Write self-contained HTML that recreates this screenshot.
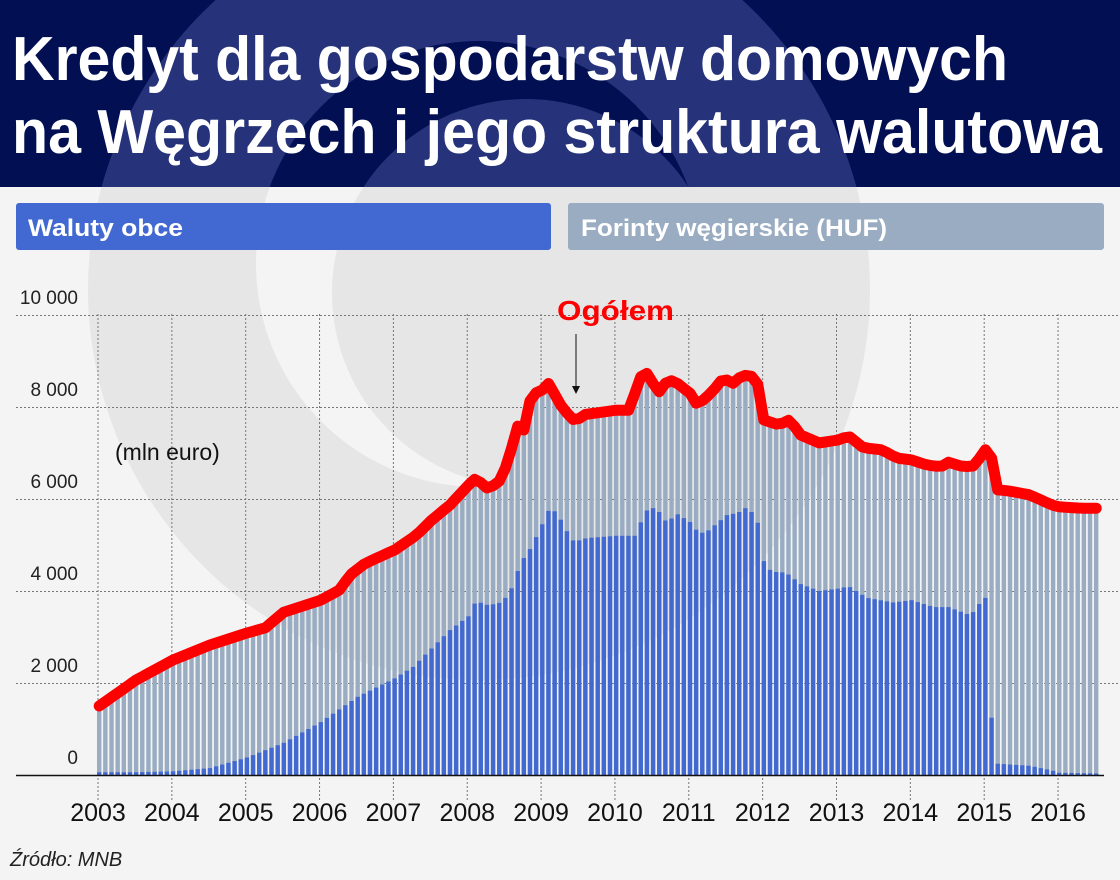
<!DOCTYPE html>
<html><head><meta charset="utf-8">
<style>
html,body{margin:0;padding:0;background:#f4f4f4;}
svg{display:block;}
</style></head>
<body>
<svg id="s" width="1120" height="880" viewBox="0 0 1120 880" xmlns="http://www.w3.org/2000/svg" font-family="Liberation Sans, sans-serif">
<defs>
<clipPath id="hdr"><rect x="0" y="0" width="1120" height="187"/></clipPath>
<clipPath id="bdy"><rect x="0" y="187" width="1120" height="693"/></clipPath>
</defs>
<rect width="1120" height="880" fill="#f4f4f4"/>
<g clip-path="url(#bdy)">
  <circle cx="479" cy="289" r="391" fill="#e6e6e6"/>
  <circle cx="479" cy="264" r="223" fill="#f4f4f4"/>
  <circle cx="526" cy="293" r="194" fill="#e6e6e6"/>
</g>
<rect width="1120" height="187" fill="#020f52"/>
<g clip-path="url(#hdr)">
  <circle cx="479" cy="289" r="391" fill="#26337a"/>
  <circle cx="479" cy="264" r="223" fill="#020f52"/>
  <circle cx="526" cy="293" r="194" fill="#26337a"/>
</g>
<text x="12" y="80" font-size="62" font-weight="bold" fill="#fff" textLength="996" lengthAdjust="spacingAndGlyphs">Kredyt dla gospodarstw domowych</text>
<text x="12" y="153" font-size="62" font-weight="bold" fill="#fff" textLength="1090" lengthAdjust="spacingAndGlyphs">na Węgrzech i jego struktura walutowa</text>
<rect x="16" y="203" width="535" height="47" rx="3" fill="#4169d1"/>
<rect x="568" y="203" width="536" height="47" rx="3" fill="#9aacc2"/>
<text x="28" y="236" font-size="24" font-weight="bold" fill="#fff" textLength="155" lengthAdjust="spacingAndGlyphs">Waluty obce</text>
<text x="581" y="236" font-size="24" font-weight="bold" fill="#fff" textLength="306" lengthAdjust="spacingAndGlyphs">Forinty węgierskie (HUF)</text>
<g id="grid" stroke="#777" stroke-width="1" stroke-dasharray="2,2"></g>
<g id="bars"></g>
<line x1="16" y1="775.5" x2="1104" y2="775.5" stroke="#111" stroke-width="1.5"/>
<g id="lab" font-size="19" fill="#222" text-anchor="end"></g>
<text x="115" y="460" font-size="23" fill="#111">(mln euro)</text>
<path id="tot" fill="none" stroke="#ff0000" stroke-width="11" stroke-linejoin="round" stroke-linecap="round"/>
<text x="557" y="320" font-size="28" font-weight="bold" fill="#f00" textLength="117" lengthAdjust="spacingAndGlyphs">Ogółem</text>
<line x1="576" y1="334" x2="576" y2="388" stroke="#111" stroke-width="1"/>
<path d="M572,386 L580,386 L576,394 Z" fill="#111"/>
<g id="yrs" font-size="25" fill="#111" text-anchor="middle"></g>
<text x="10" y="866" font-size="20" font-style="italic" fill="#222">Źródło: MNB</text>
</svg>
<script>
var NS="http://www.w3.org/2000/svg";
function el(t,a,p,txt){var e=document.createElementNS(NS,t);for(var k in a)e.setAttribute(k,a[k]);if(txt!==undefined)e.textContent=txt;p.appendChild(e);return e;}
var Y=function(v){return 775-v*0.046;};
var X0=98,PY=73.85;
var grid=document.getElementById('grid'),lab=document.getElementById('lab'),yrs=document.getElementById('yrs');
[0,2000,4000,6000,8000,10000].forEach(function(v){
  if(v>0) el('line',{x1:16,x2:1120,y1:Y(v)+0.5,y2:Y(v)+0.5},grid);
  el('text',{x:78,y:Y(v)-11},lab,v===10000?'10 000':v===0?'0':(v/1000)+' 000');
});
for(var i=0;i<14;i++){var x=X0+i*PY;
  el('line',{x1:x,x2:x,y1:314,y2:802},grid);
  el('text',{x:x,y:821},yrs,String(2003+i));}
var T=[[2003,1500],[2003.5,2065],[2004,2500],[2004.5,2826],[2005,3087],[2005.25,3200],[2005.5,3540],[2006,3800],[2006.25,4020],[2006.4,4350],[2006.6,4600],[2007,4890],[2007.3,5220],[2007.5,5540],[2007.75,5870],[2008,6300],[2008.1,6450],[2008.25,6240],[2008.4,6330],[2008.55,6850],[2008.65,7600],[2008.75,7500],[2008.85,8260],[2009,8370],[2009.1,8540],[2009.2,8150],[2009.3,7930],[2009.45,7670],[2009.55,7830],[2010,7930],[2010.2,7930],[2010.3,8630],[2010.45,8760],[2010.55,8260],[2010.7,8590],[2010.8,8550],[2011,8300],[2011.1,8040],[2011.3,8330],[2011.45,8630],[2011.6,8500],[2011.7,8700],[2011.9,8650],[2012,7720],[2012.2,7610],[2012.35,7720],[2012.5,7390],[2012.75,7220],[2013,7280],[2013.15,7370],[2013.35,7110],[2013.6,7070],[2013.8,6890],[2014,6850],[2014.2,6740],[2014.4,6700],[2014.5,6800],[2014.7,6700],[2014.85,6720],[2015,7070],[2015.1,6850],[2015.15,6200],[2015.3,6180],[2015.6,6090],[2015.9,5870],[2016,5830],[2016.3,5800],[2016.6,5800]];
var F=[[2003,60],[2003.5,60],[2004,80],[2004.5,150],[2005,380],[2005.5,700],[2006,1150],[2006.5,1700],[2007,2100],[2007.25,2350],[2007.5,2750],[2007.75,3150],[2008,3450],[2008.1,3780],[2008.25,3700],[2008.4,3720],[2008.5,3850],[2008.6,4100],[2008.7,4600],[2008.85,4950],[2009,5450],[2009.1,5800],[2009.2,5700],[2009.3,5400],[2009.4,5100],[2009.5,5100],[2009.6,5150],[2010,5200],[2010.25,5200],[2010.35,5550],[2010.45,5850],[2010.6,5700],[2010.7,5450],[2010.8,5700],[2011,5500],[2011.1,5300],[2011.2,5250],[2011.35,5450],[2011.5,5650],[2011.65,5700],[2011.75,5800],[2011.9,5650],[2012,4650],[2012.1,4420],[2012.3,4400],[2012.5,4150],[2012.75,4000],[2013,4050],[2013.15,4100],[2013.4,3850],[2013.75,3750],[2014,3800],[2014.3,3650],[2014.5,3650],[2014.75,3500],[2014.85,3550],[2014.95,3800],[2015,3850],[2015.05,2150],[2015.12,250],[2015.6,200],[2015.9,100],[2016,50],[2016.6,30]];
function interp(P,t){if(t<=P[0][0])return P[0][1];for(var i=1;i<P.length;i++){if(t<=P[i][0]){var a=P[i-1],b=P[i];return a[1]+(b[1]-a[1])*(t-a[0])/(b[0]-a[0]);}}return P[P.length-1][1];}
var bars=document.getElementById('bars'),d='';
var N=163,dx=PY/12;
for(var m=0;m<N;m++){var t=2003+m/12;var tv=interp(T,t),fv=interp(F,t);
  var x=X0-1+m*dx;
  el('rect',{x:x.toFixed(2),y:Y(tv).toFixed(2),width:4.4,height:(775-Y(tv)).toFixed(2),fill:'#9aacc2'},bars);
  el('rect',{x:x.toFixed(2),y:Y(fv).toFixed(2),width:4.4,height:(775-Y(fv)).toFixed(2),fill:'#4169d1'},bars);
  d+=(m?'L':'M')+(x+2.2).toFixed(1)+','+Y(tv).toFixed(1);
}
document.getElementById('tot').setAttribute('d',d);
</script>
</body></html>
